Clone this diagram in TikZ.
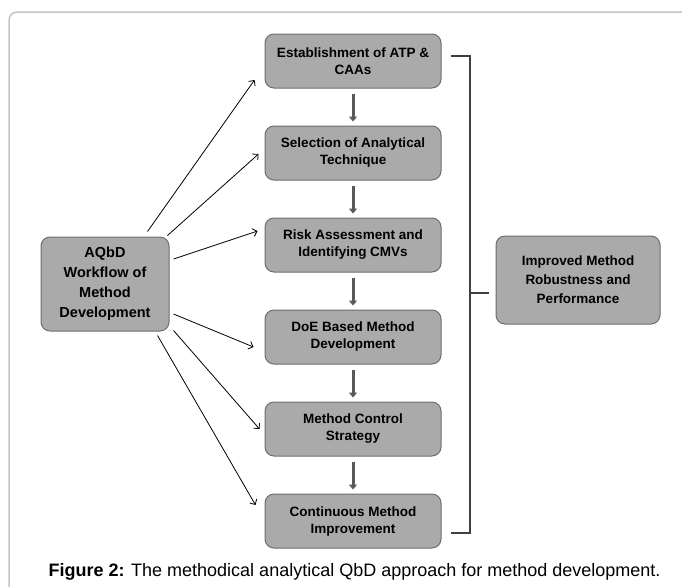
\documentclass[tikz,border=0pt]{standalone}
\usepackage{fontspec}
\setmainfont{Liberation Sans}
\usepackage{xcolor}
\usetikzlibrary{arrows.meta,positioning}

\definecolor{boxfill}{HTML}{AAAAAA}
\definecolor{boxline}{HTML}{6E6E6E}
\definecolor{flowgray}{HTML}{595959}
\definecolor{framegray}{HTML}{C4C4C4}

\begin{document}
\begin{tikzpicture}[
  x=1pt, y=-1pt,
  node distance=37pt,
  box/.style={draw=boxline, line width=1pt, fill=boxfill, rounded corners=9pt, minimum width=176pt, minimum height=54pt, align=center, font=\bfseries\fontsize{13.5}{17}\selectfont},
  side/.style={box, minimum width=128pt, minimum height=94pt, font=\bfseries\fontsize{14.5}{20}\selectfont},
  flow/.style={-{Triangle[length=5pt, width=8pt]}, line width=3pt, draw=flowgray, shorten <=5pt, shorten >=4pt},
  arr/.style={-{Straight Barb[length=4pt, width=8pt]}, line width=0.8pt},
  brace/.style={draw=black!75, line width=2pt}
]
\useasboundingbox (0,0) rectangle (682,587);
% page frame
\draw[framegray, line width=1.5pt, rounded corners=8pt] (9,587) -- (9,12) -- (682,12);

% main column
\node[box] (est) at (353,61) {Establishment of ATP \&\\CAAs};
\node[box, below=of est] (sel) {Selection of Analytical\\Technique};
\node[box, below=of sel] (risk) {Risk Assessment and\\Identifying CMVs};
\node[box, below=of risk] (doe) {DoE Based Method\\Development};
\node[box, below=of doe] (ctrl) {Method Control\\Strategy};
\node[box, below=of ctrl] (cont) {Continuous Method\\Improvement};

\node[side] (wf) at (105,284) {AQbD\\Workflow of\\Method\\Development};
\node[side, minimum width=164pt, minimum height=88pt, font=\bfseries\fontsize{13.5}{19}\selectfont] (imp) at (578,280) {Improved Method\\Robustness and\\Performance};

\draw[flow] (est) -- (sel);
\draw[flow] (sel) -- (risk);
\draw[flow] (risk) -- (doe);
\draw[flow] (doe) -- (ctrl);
\draw[flow] (ctrl) -- (cont);

% workflow arrows
\draw[arr] ([xshift=-22pt, yshift=5pt]wf.north east) -- ([xshift=-10pt, yshift=-19pt]est.west);
\draw[arr] ([xshift=-2pt, yshift=1pt]wf.north east) -- ([xshift=-6pt, yshift=-1pt]sel.west);
\draw[arr] ([xshift=4pt, yshift=25pt]wf.east) -- ([xshift=-7pt, yshift=14pt]risk.west);
\draw[arr] ([xshift=4pt, yshift=-30pt]wf.east) -- ([xshift=-11pt, yshift=-10pt]doe.west);
\draw[arr] ([xshift=4pt, yshift=1pt]wf.south east) -- ([xshift=-5pt]ctrl.west);
\draw[arr] ([xshift=-12pt, yshift=-4pt]wf.south east) -- ([xshift=-9pt, yshift=16pt]cont.west);

% bracket
\coordinate (bt) at ([xshift=9pt, yshift=5pt]est.east);
\coordinate (bb) at ([xshift=9pt, yshift=-12pt]cont.east);
\draw[brace] (bt) -- ++(19,0) |- (bb);
\draw[brace] ([xshift=-7pt, yshift=-13pt]imp.west) -- ++(-20,0);

\node[anchor=west, font=\fontsize{18}{22}\selectfont] (cap) at (45,572) {\textbf{Figure 2:} The methodical analytical QbD approach for method development.};
\end{tikzpicture}
\end{document}
